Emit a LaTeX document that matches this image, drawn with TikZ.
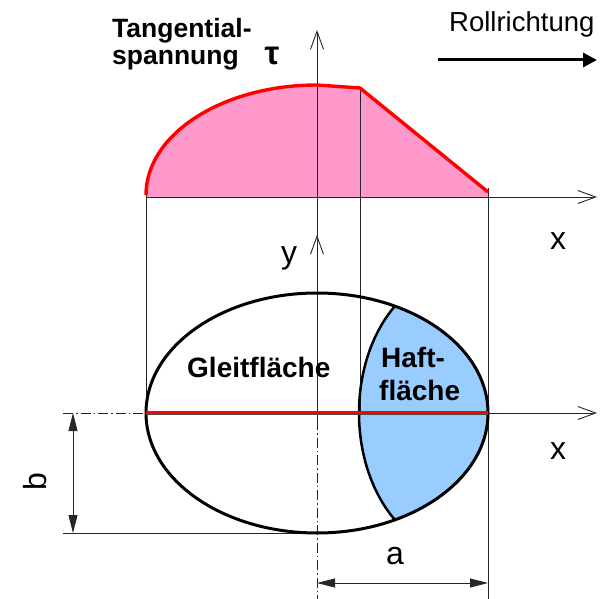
\documentclass[tikz,border=0pt]{standalone}
\usepackage{fontspec}
\setmainfont{Liberation Sans}
\usetikzlibrary{arrows.meta}
\definecolor{pinkfill}{HTML}{FF99CC}
\definecolor{bluefill}{HTML}{99CCFF}
\begin{document}
\begin{tikzpicture}[x=1pt,y=-1pt,
  thinline/.style={line width=0.9pt, black!85},
  axisarrow/.style={-{Straight Barb[length=18pt,width=13pt,line width=0.9pt]}},
  dimarrow/.style={{Triangle[length=18pt,width=9pt]}-{Triangle[length=18pt,width=9pt]}, line width=0.9pt, black!85},
  dashdot/.style={dash pattern=on 10pt off 3pt on 1.5pt off 3pt},
  boldlabel/.style={font=\fontsize{28}{30}\selectfont\bfseries, inner sep=0pt, anchor=base west},
  axislabel/.style={font=\fontsize{32}{34}\selectfont, inner sep=0pt, anchor=base},
  redline/.style={red, line width=3.4pt}]
\useasboundingbox (0,0) rectangle (608,599);
% named points
\coordinate (tauTip) at (317,30);
\coordinate (yTip) at (317,235);
\coordinate (C) at (317,413);
\coordinate (L) at (146,413);
\coordinate (R) at (488,413);
\coordinate (Ltop) at (146,195);
\coordinate (Peak) at (317,85);
\coordinate (Kink) at (360,88);
\coordinate (Rtop) at (488,192);
\coordinate (Htop) at (395,306);
\coordinate (Hbot) at (395,520);
% pink area
\fill[pinkfill] (146,197) -- (Ltop) .. controls (146,134) and (223,85) .. (Peak) -- (Kink) -- (Rtop) -- (488,197) -- cycle;
% blue area
\begin{scope}
  \clip (C) ellipse [x radius=171, y radius=120];
  \fill[bluefill] (Htop) .. controls (347,362) and (347,464) .. (Hbot) -- (520,540) -- (520,280) -- (395,280) -- cycle;
\end{scope}
% thin lines
\draw[thinline, axisarrow] (317,420) -- (tauTip);
\draw[thinline, axisarrow] (317,300) -- (yTip);
\draw[thinline, dashdot] (317,420) -- (317,599);
\draw[thinline, axisarrow] (146,197) -- (597,197);
\draw[thinline] (146,186) -- (L);
\draw[thinline] (Kink) -- (360,413);
\draw[thinline] (488,188) -- (488,599);
\draw[thinline, axisarrow] (R) -- (597,413);
\draw[thinline, dashdot] (63,413) -- (L);
\draw[thinline] (63,533) -- (317,533);
% red tau curve
\draw[redline, line join=round] (Ltop) .. controls (146,134) and (223,85) .. (Peak) -- (Kink) -- (Rtop);
% ellipse and Haftflaeche border
\draw[line width=3pt] (C) ellipse [x radius=171, y radius=120];
\draw[line width=2.5pt] (Htop) .. controls (347,362) and (347,464) .. (Hbot);
% red x line
\draw[black!70, line width=3.6pt] (L) -- (R);
\draw[red, line width=2.2pt] (L) -- (R);
% dimensions
\coordinate (bTop) at (73,413);
\coordinate (bBot) at (73,533);
\coordinate (aL) at (317,583);
\coordinate (aR) at (488,583);
\draw[dimarrow] (bTop) -- (bBot);
\draw[dimarrow] (aL) -- (aR);
% rolling direction
\coordinate (rdL) at (438,60);
\coordinate (rdR) at (597,60);
\draw[line width=3pt, -{Triangle[length=14pt,width=14pt]}] (rdL) -- (rdR);
% texts
\node[boldlabel, font=\fontsize{26.5}{28}\selectfont\bfseries] (t1) at (112,38) {Tangential-};
\node[boldlabel, font=\fontsize{26.5}{28}\selectfont\bfseries] (t2) at (112,65) {spannung};
\node[inner sep=0pt, font=\fontsize{33}{34}\selectfont\bfseries] (tau) at (272,56) {τ};
\node[inner sep=0pt, anchor=base west, font=\fontsize{27.5}{29}\selectfont] (rr) at (449,32) {Rollrichtung};
\node[boldlabel] (gl) at (187,377) {Gleitfläche};
\node[boldlabel] (h1) at (381,367) {Haft-};
\node[boldlabel] (h2) at (379,400) {fläche};
\node[axislabel] (x1) at (558,249) {x};
\node[axislabel] (x2) at (558,459) {x};
\node[axislabel] (yl) at (289,263) {y};
\node[axislabel] (al) at (395,564) {a};
\node[axislabel, rotate=90] (bl) at (46,482) {b};
\end{tikzpicture}
\end{document}
